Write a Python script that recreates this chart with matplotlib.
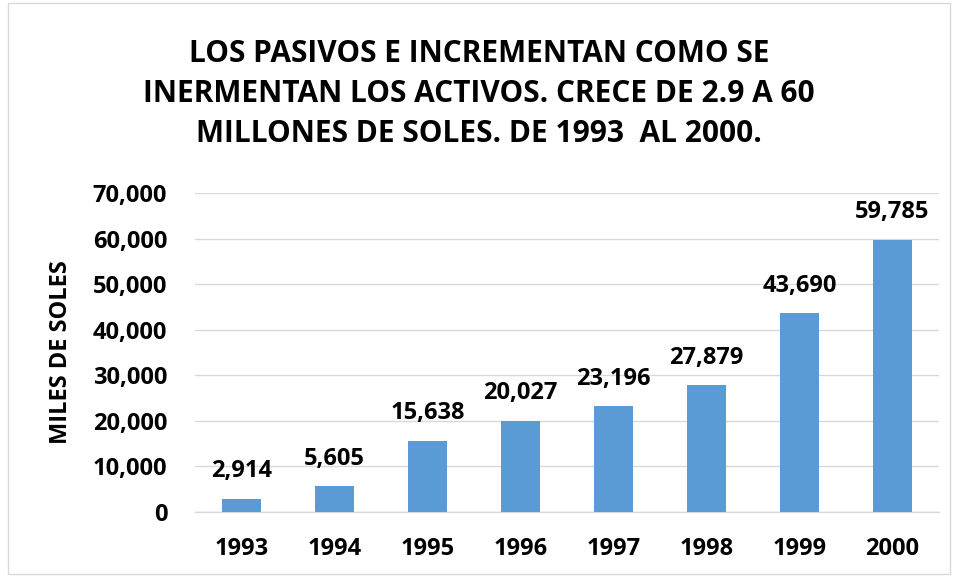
import matplotlib
matplotlib.use("Agg")
import matplotlib.pyplot as plt
from matplotlib.patches import Rectangle

years = ["1993", "1994", "1995", "1996", "1997", "1998", "1999", "2000"]
values = [2914, 5605, 15638, 20027, 23196, 27879, 43690, 59785]
yticks = [0, 10000, 20000, 30000, 40000, 50000, 60000, 70000]
title = ("LOS PASIVOS E INCREMENTAN COMO SE\n"
         "INERMENTAN LOS ACTIVOS. CRECE DE 2.9 A 60\n"
         "MILLONES DE SOLES. DE 1993  AL 2000.")

plt.rcParams['font.family'] = ['Open Sans', 'DejaVu Sans']

fig = plt.figure(figsize=(9.58, 5.77), dpi=100)
W, H = 958, 577
ax = fig.add_axes([195 / W, 1 - 512 / H, (939 - 195) / W, (512 - 193) / H])

x = list(range(len(years)))
ax.bar(x, values, width=0.41, color="#5B9BD5", zorder=3)
for xi, v in zip(x, values):
    ax.annotate(f"{v:,}", (xi, v), xytext=(0, 11), textcoords="offset points",
                ha="center", va="bottom", fontsize=17, fontweight="bold",
                color="#000000")

ax.set_xlim(-0.5, len(years) - 0.5)
ax.set_ylim(0, 70000)
ax.set_yticks(yticks)
ax.set_yticklabels([f"{t:,}" for t in yticks], fontsize=17, fontweight="bold")
ax.set_xticks(x)
ax.set_xticklabels(years, fontsize=17, fontweight="bold")
ax.tick_params(axis="y", length=0, pad=20)
ax.tick_params(axis="x", length=0, pad=18)
ax.grid(axis="y", color="#D9D9D9", linewidth=1, zorder=0)
for s in ["top", "right", "left"]:
    ax.spines[s].set_visible(False)
ax.spines["bottom"].set_color("#D9D9D9")
ax.spines["bottom"].set_linewidth(1)

ax.set_ylabel("MILES DE SOLES", fontsize=17, fontweight="bold", labelpad=14)

fig.text(0.5, 1 - 94 / H, title, ha="center", va="center",
         fontsize=21.5, fontweight="bold", linespacing=1.45)

fig.patches.append(Rectangle((8 / W, 3 / H), (950 - 8) / W, (574 - 3) / H,
                             transform=fig.transFigure, fill=False,
                             edgecolor="#D9D9D9", linewidth=1))

fig.savefig("out.png", dpi=100)
